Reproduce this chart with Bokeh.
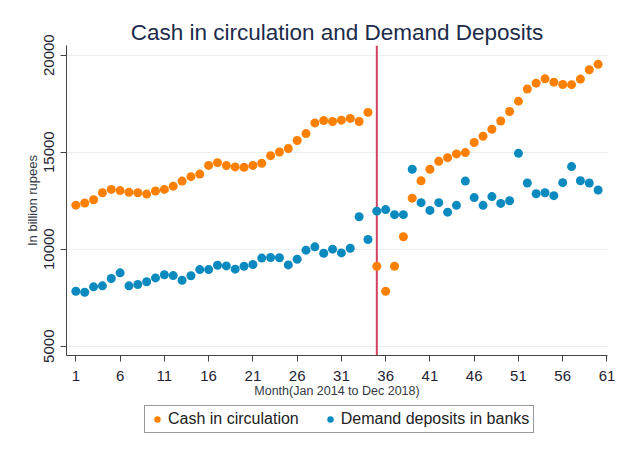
from bokeh.plotting import figure
from bokeh.layouts import column
from bokeh.models import ColumnDataSource, Span, Legend, LegendItem, FixedTicker, Range1d
from bokeh.embed import file_html
from bokeh.resources import INLINE

# ---- data ----
months = list(range(1, 61))
cash = [12270, 12380, 12550, 12910, 13080, 13020, 12930, 12910, 12840, 13000,
        13080, 13250, 13510, 13740, 13870, 14320, 14460, 14310, 14240, 14220,
        14320, 14430, 14820, 15010, 15190, 15600, 15960, 16510, 16630, 16580,
        16650, 16740, 16580, 17050, 9120, 7830, 9120, 10640, 12630, 13530,
        14120, 14530, 14720, 14910, 14980, 15500, 15820, 16180, 16610, 17100,
        17630, 18260, 18560, 18780, 18610, 18490, 18480, 18770, 19250, 19530]
deposits = [7830, 7780, 8060, 8110, 8490, 8780, 8110, 8180, 8320, 8520,
            8680, 8640, 8400, 8630, 8950, 8950, 9170, 9140, 8970, 9120,
            9210, 9540, 9570, 9560, 9190, 9480, 9950, 10120, 9790, 10000,
            9810, 10050, 11670, 10500, 11960, 12040, 11780, 11780, 14120, 12400,
            12000, 12400, 11910, 12260, 13510, 12660, 12260, 12710, 12360, 12500,
            14940, 13410, 12860, 12910, 12760, 13430, 14260, 13530, 13410, 13050]
x_ticks = [1, 6, 11, 16, 21, 26, 31, 36, 41, 46, 51, 56, 61]
y_ticks = [5000, 10000, 15000, 20000]
event_month = 35
series_labels = ["Cash in circulation", "Demand deposits in banks"]

ORANGE = "#ff8000"
BLUE = "#0a8abf"
FONT = "Liberation Sans"
W = 615

src = ColumnDataSource(dict(month=months, cash=cash, deposits=deposits))

p = figure(width=W, height=400, output_backend="svg", toolbar_location=None,
           x_range=Range1d(-0.057, 61.06), y_range=Range1d(4520, 20500),
           min_border_left=66, min_border_right=8, min_border_top=45,
           min_border_bottom=45, background_fill_color="white",
           border_fill_color="white")
p.outline_line_color = None

p.title.text = "Cash in circulation and Demand Deposits"
p.title.align = "center"
p.title.text_font = FONT
p.title.text_font_size = "22.5px"
p.title.text_font_style = "normal"
p.title.text_color = "#1c2b4a"
p.title.standoff = 2

for ax in (p.xaxis, p.yaxis):
    ax.axis_line_color = "#444444"
    ax.major_tick_line_color = "#444444"
    ax.major_tick_out = 6
    ax.major_tick_in = 0
    ax.minor_tick_line_color = None
    ax.major_label_text_font = FONT
    ax.major_label_text_font_size = "15px"
    ax.major_label_text_color = "#1e2233"
    ax.axis_label_text_font = FONT
    ax.axis_label_text_font_style = "normal"
    ax.axis_label_text_color = "#333a45"

p.xaxis.ticker = FixedTicker(ticks=x_ticks)
p.yaxis.ticker = FixedTicker(ticks=y_ticks)
p.yaxis.major_label_orientation = "vertical"
p.xaxis.major_label_standoff = 9
p.yaxis.major_label_standoff = 6
p.xaxis.axis_label = "Month(Jan 2014 to Dec 2018)"
p.xaxis.axis_label_text_font_size = "12.5px"
p.xaxis.axis_label_standoff = 0
p.yaxis.axis_label = "In billion rupees"
p.yaxis.axis_label_text_font_size = "13px"
p.yaxis.axis_label_standoff = 2

p.xgrid.visible = False
p.ygrid.grid_line_color = "#e8f0f2"
p.ygrid.grid_line_width = 1

span = Span(location=event_month, dimension="height", line_color="#d0435f",
            line_width=2, level="underlay")
p.add_layout(span)

r_cash = p.scatter(x="month", y="cash", source=src, size=9,
                   fill_color=ORANGE, line_color=None)
r_dep = p.scatter(x="month", y="deposits", source=src, size=9,
                  fill_color=BLUE, line_color=None)

# ---- legend strip below the plot (its frame is aligned with the plot's frame) ----
lf = figure(width=W, height=39, output_backend="svg", toolbar_location=None,
            min_border=0, x_range=Range1d(0, 1), y_range=Range1d(0, 1),
            background_fill_color="white", border_fill_color="white")
lf.outline_line_color = None
lf.axis.visible = False
lf.grid.visible = False
# same data, outside this strip's ranges: only used to draw legend swatches
l_cash = lf.scatter(x="month", y="cash", source=src, size=9, fill_color=ORANGE, line_color=None)
l_dep = lf.scatter(x="month", y="deposits", source=src, size=9, fill_color=BLUE, line_color=None)

legend = Legend(items=[LegendItem(label=series_labels[0], renderers=[l_cash]),
                       LegendItem(label=series_labels[1], renderers=[l_dep])],
                orientation="horizontal", location=(78, 6))
legend.border_line_color = "#333333"
legend.border_line_width = 1
legend.background_fill_color = "white"
legend.label_text_font = FONT
legend.label_text_font_size = "16px"
legend.label_text_color = "#222222"
legend.glyph_width = 16
legend.glyph_height = 18
legend.padding = 4
legend.spacing = 23
legend.label_standoff = 3
legend.margin = 0
lf.add_layout(legend)

layout = column(p, lf, spacing=0)
open("out.html", "w").write(file_html(layout, INLINE))
